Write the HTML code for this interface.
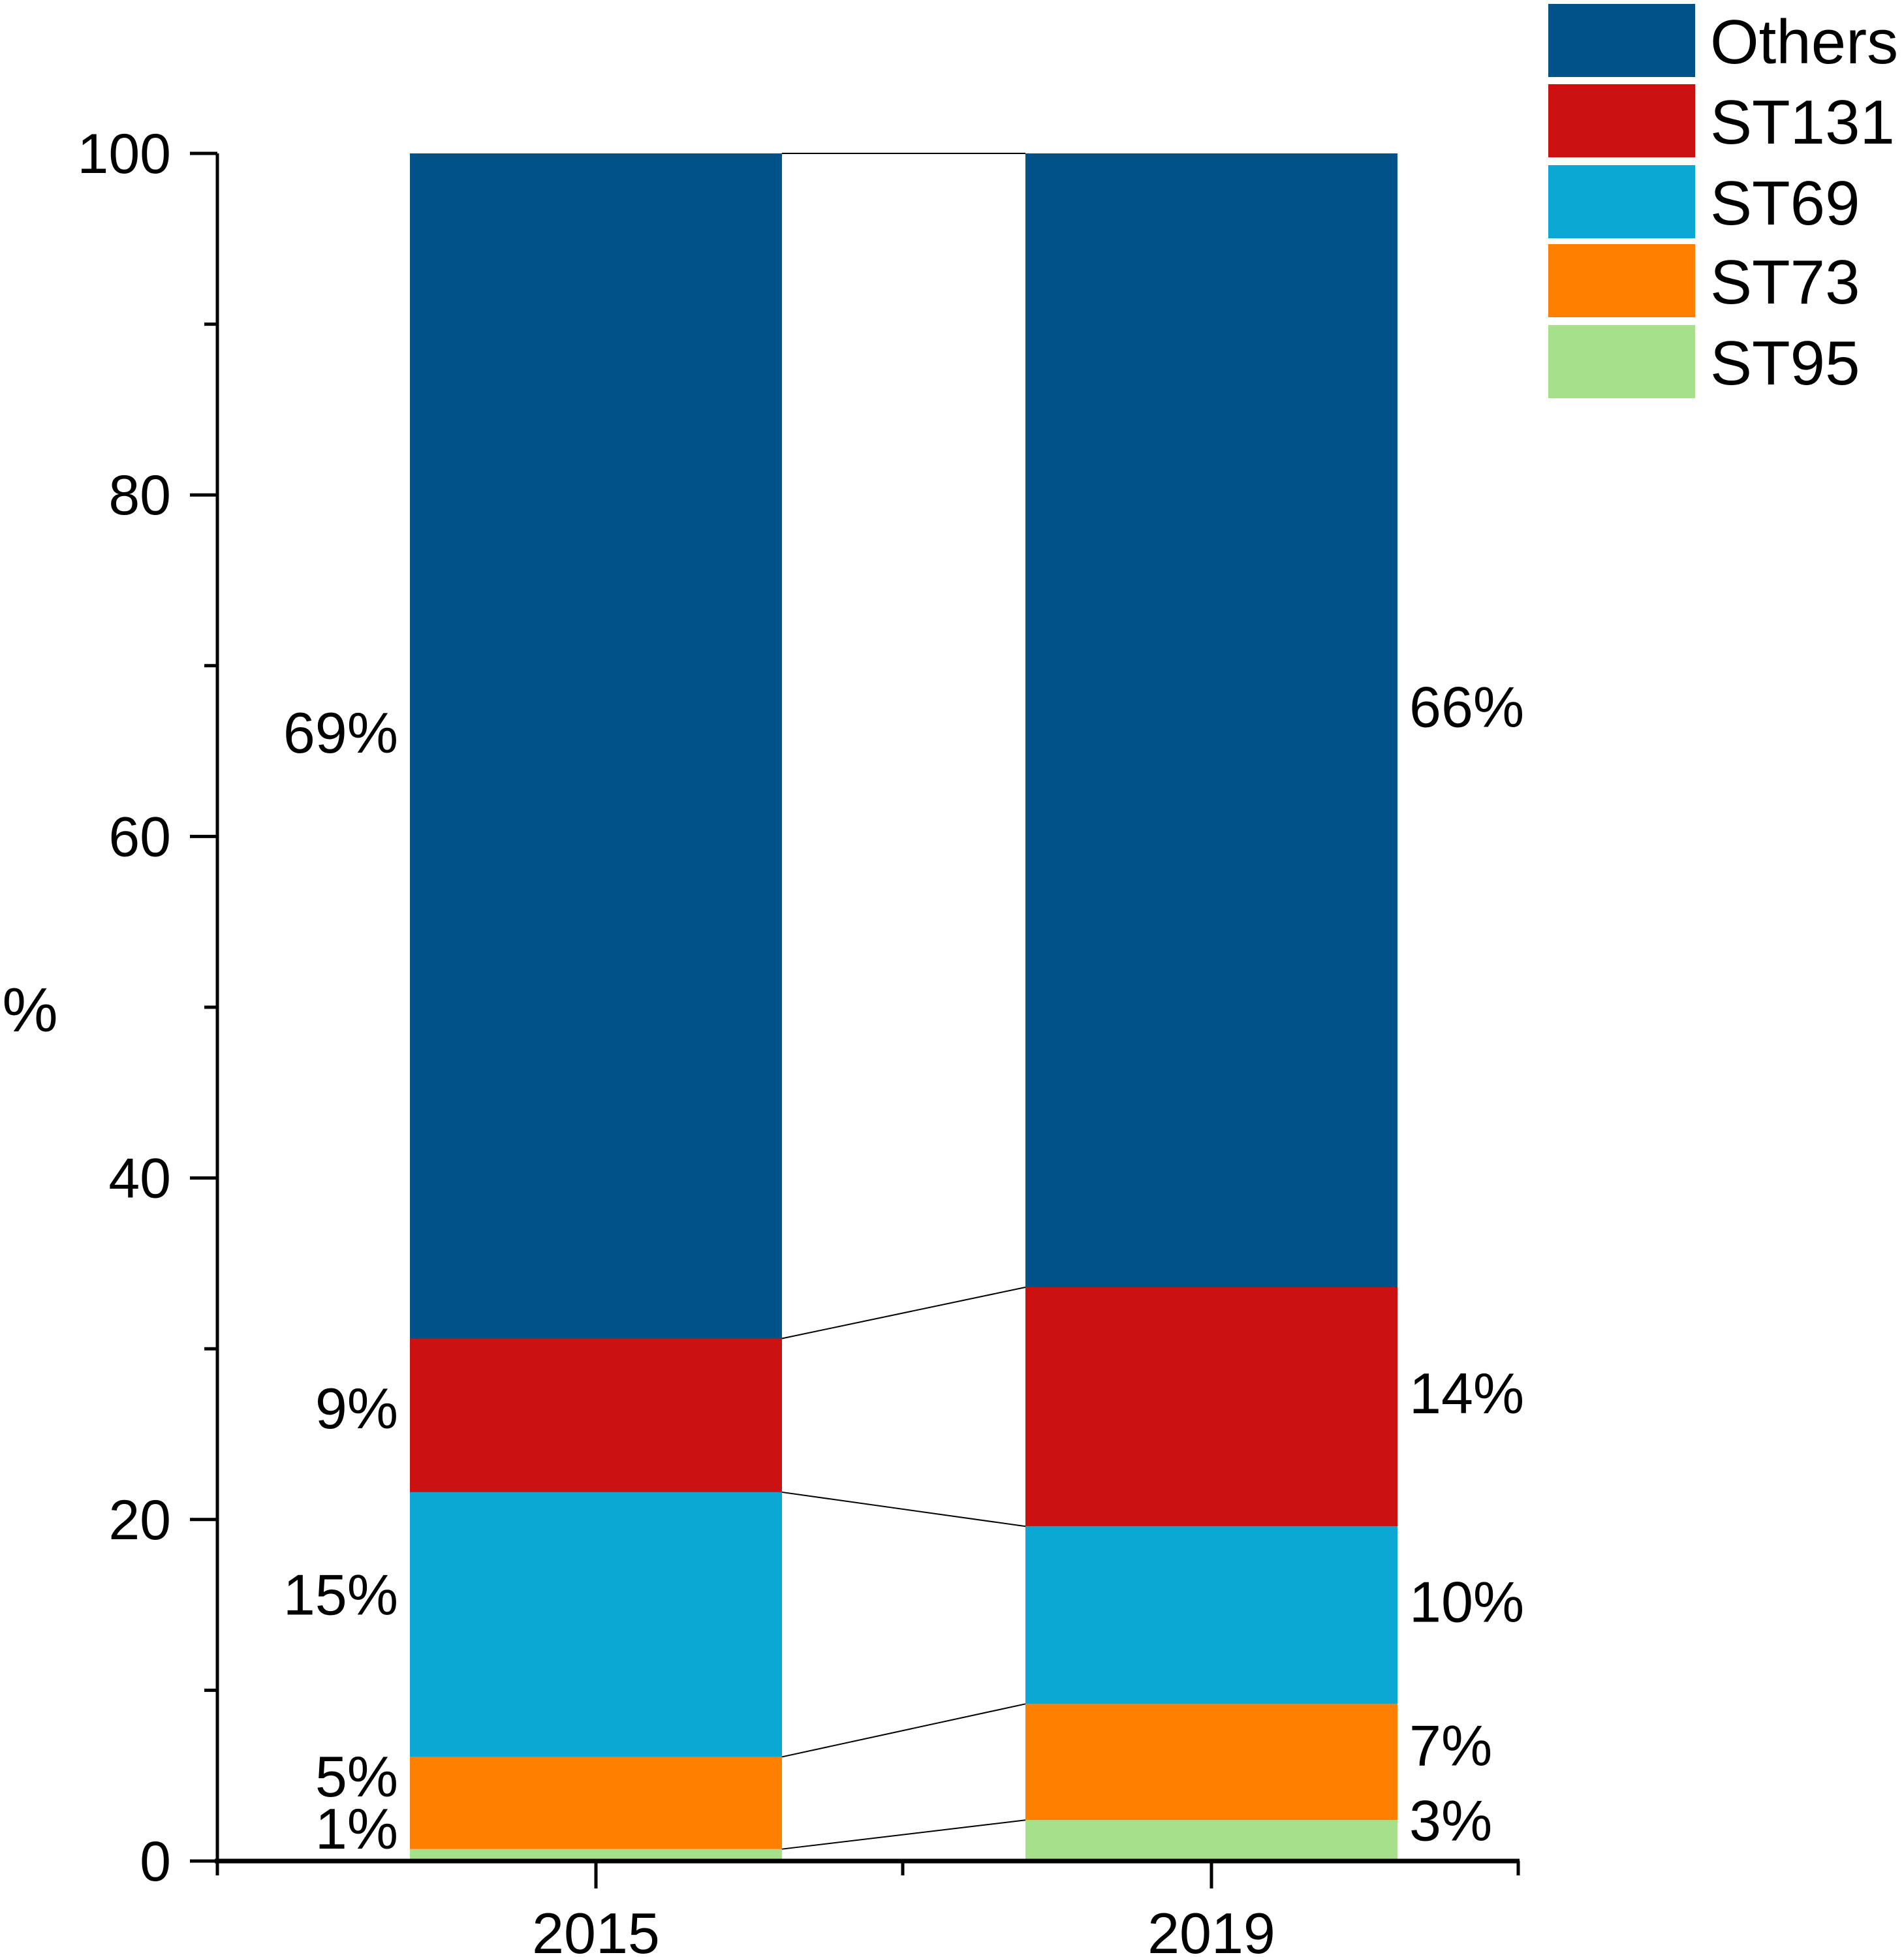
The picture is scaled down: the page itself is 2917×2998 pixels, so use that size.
<!DOCTYPE html>
<html><head><meta charset="utf-8"><style>
html,body{margin:0;padding:0;background:#fff;}
svg{display:block;font-family:"Liberation Sans",Arial,sans-serif;}
</style></head><body>
<svg id="chart" width="2917" height="2998" viewBox="0 0 2917 2998"></svg>
<script>
const categories = ["2015","2019"];
const seriesNames = ["ST95","ST73","ST69","ST131","Others"];
const st95 = [0.7, 2.4];
const st73 = [5.4, 6.8];
const st69 = [15.5, 10.4];
const st131 = [9.0, 14.0];
const others = [69.4, 66.4];
const labels2015 = ["1%","5%","15%","9%","69%"];
const labels2019 = ["3%","7%","10%","14%","66%"];
const yTicks = [0,20,40,60,80,100];
const colors = ["#a6e08a","#ff7f00","#0aa8d2","#cc1111","#02528a"];

const svg = document.getElementById('chart');
const NS = "http://www.w3.org/2000/svg";
const x0 = 333, x1 = 2328, y0 = 2851, yTop = 235;
function y(v){ return y0 - (v/100)*(y0-yTop); }
const barCenters = [913, 1856];
const barW = 570;
const labelDy = [[-20,-20,-25,10,0],[-10,-5,0,0,0]];
function mk(tag, attrs){ const e=document.createElementNS(NS,tag); for(const k in attrs) e.setAttribute(k,attrs[k]); svg.appendChild(e); return e; }

const series = [st95, st73, st69, st131, others];
const labelSets = [labels2015, labels2019];
const tops = [[],[]];
categories.forEach((c,i)=>{
  let cum = 0;
  series.forEach((s,j)=>{
    const v = s[i];
    const r = mk('rect',{x:barCenters[i]-barW/2, y:y(cum+v), width:barW, height:y(cum)-y(cum+v), fill:colors[j]});
    
    
    const mid = (y(cum)+y(cum+v))/2;
    const t = mk('text',{x: i===0 ? barCenters[i]-barW/2-18 : barCenters[i]+barW/2+18, y: mid+10+labelDy[i][j], 'font-size':88, 'text-anchor': i===0?'end':'start', fill:'#000'});
    t.textContent = labelSets[i][j];
    
    
    cum += v;
    tops[i].push(cum);
  });
});
tops[0].forEach((t,j)=>{
  const l = mk('line',{x1:barCenters[0]+barW/2, y1:y(t), x2:barCenters[1]-barW/2, y2:y(tops[1][j]), stroke:'#000', 'stroke-width':2});
  
  
});
const ya = mk('line',{x1:x0, y1:yTop, x2:x0, y2:y0+4, stroke:'#000','stroke-width':5});


const xa = mk('line',{x1:x0-4, y1:y0, x2:x1, y2:y0, stroke:'#000','stroke-width':7});


yTicks.forEach(v=>{
  const tk = mk('line',{x1:x0-42, y1:y(v), x2:x0, y2:y(v), stroke:'#000','stroke-width':5});
  
  
  const tl = mk('text',{x:262, y:y(v)+30, 'font-size':86, 'text-anchor':'end'});
  tl.textContent = v;
  
  
});
for(let v=10; v<100; v+=20){
  const tk = mk('line',{x1:x0-20, y1:y(v), x2:x0, y2:y(v), stroke:'#000','stroke-width':5});
  
  
}
categories.forEach((c,i)=>{
  const tk = mk('line',{x1:barCenters[i], y1:y0, x2:barCenters[i], y2:y0+42, stroke:'#000','stroke-width':5});
  
  
  const tl = mk('text',{x:barCenters[i], y:2992, 'font-size':88, 'text-anchor':'middle'});
  tl.textContent = c;
  
  
});
[x0, 1383, x1-2].forEach(xx=>{
  const tk = mk('line',{x1:xx, y1:y0, x2:xx, y2:y0+22, stroke:'#000','stroke-width':5});
  
  
});
const yt = mk('text',{x:46, y:1580, 'font-size':96, 'text-anchor':'middle'});
yt.textContent = '%';


const legOrder = [4,3,2,1,0];
const legTops = [6,129,253,374,498];
legOrder.forEach((j,k)=>{
  const r = mk('rect',{x:2372, y:legTops[k], width:225, height:112, fill:colors[j]});
  
  
  const t = mk('text',{x:2620, y:legTops[k]+91, 'font-size':96});
  t.textContent = seriesNames[j];
  
  
});
</script>
</body></html>
